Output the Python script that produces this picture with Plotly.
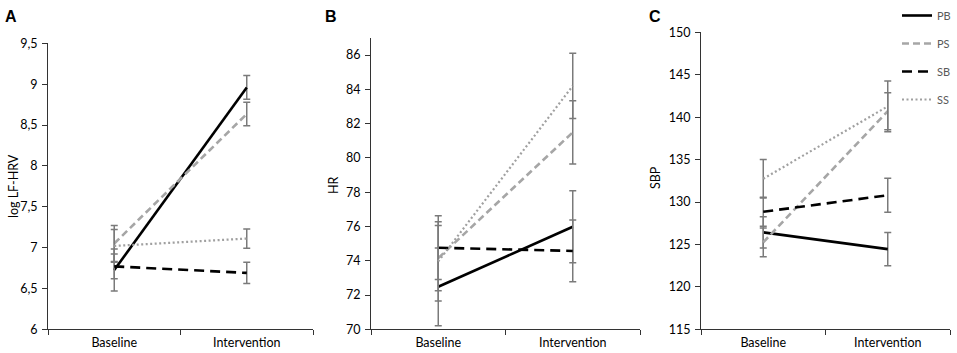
import plotly.graph_objects as go

# ---------------- data ----------------
phases = ["Baseline", "Intervention"]
groups = ["PB", "PS", "SB", "SS"]

# Panel A: log LF-HRV
lf_PB = [6.725, 8.96]
lf_PS = [7.05, 8.635]
lf_SB = [6.77, 6.69]
lf_SS = [7.02, 7.11]
lf_PB_err = [0.257, 0.145]
lf_PS_err = [0.22, 0.145]
lf_SB_err = [0.15, 0.13]
lf_SS_err = [0.20, 0.118]

# Panel B: HR
hr_PB = [72.48, 75.98]
hr_PS = [74.15, 81.49]
hr_SB = [74.76, 74.57]
hr_SS = [73.96, 84.2]
hr_PB_err = [2.27, 2.1]
hr_PS_err = [1.9, 1.85]
hr_SB_err = [1.86, 1.8]
hr_SS_err = [2.31, 1.9]

# Panel C: SBP
sbp_PB = [126.42, 124.45]
sbp_PS = [125.25, 140.7]
sbp_SB = [128.85, 130.8]
sbp_SS = [132.74, 141.27]
sbp_PB_err = [1.85, 1.97]
sbp_PS_err = [1.7, 2.17]
sbp_SB_err = [1.7, 2.0]
sbp_SS_err = [2.26, 3.0]

lf_ticks = [6, 6.5, 7, 7.5, 8, 8.5, 9, 9.5]
lf_ticktext = ["6", "6,5", "7", "7,5", "8", "8,5", "9", "9,5"]
hr_ticks = [70, 72, 74, 76, 78, 80, 82, 84, 86]
sbp_ticks = [115, 120, 125, 130, 135, 140, 145, 150]

y_titles = ["log LF-HRV", "HR", "SBP"]
panel_letters = ["A", "B", "C"]

# ---------------- styles ----------------
styles = {
    "PB": dict(color="#000000", width=2.6, dash="solid"),
    "PS": dict(color="#a6a6a6", width=2.6, dash="7px,4px"),
    "SB": dict(color="#000000", width=2.6, dash="10px,6px"),
    "SS": dict(color="#a0a0a0", width=2.2, dash="2px,2.5px"),
}
ERR_COLOR = "#7a7a7a"
FONT = "Lato, 'Open Sans', sans-serif"

W, H = 957, 353
fig = go.Figure()

panels = [
    ("x", "y", {"PB": (lf_PB, lf_PB_err), "PS": (lf_PS, lf_PS_err),
                "SB": (lf_SB, lf_SB_err), "SS": (lf_SS, lf_SS_err)}),
    ("x2", "y2", {"PB": (hr_PB, hr_PB_err), "PS": (hr_PS, hr_PS_err),
                  "SB": (hr_SB, hr_SB_err), "SS": (hr_SS, hr_SS_err)}),
    ("x3", "y3", {"PB": (sbp_PB, sbp_PB_err), "PS": (sbp_PS, sbp_PS_err),
                  "SB": (sbp_SB, sbp_SB_err), "SS": (sbp_SS, sbp_SS_err)}),
]

for pi, (xa, ya, data) in enumerate(panels):
    for g in groups:
        vals, errs = data[g]
        fig.add_trace(go.Scatter(
            x=phases, y=vals, xaxis=xa, yaxis=ya, mode="lines",
            name=g, legendgroup=g, showlegend=(pi == 2),
            line=styles[g],
            error_y=dict(type="data", array=errs, visible=True,
                         color=ERR_COLOR, thickness=1.5, width=3.5),
        ))

ybot = (H - 329.3) / H
x_domains = [(48 / W, 313 / W), (371 / W, 640 / W), (701 / W, 950 / W)]
y_domains = [(ybot, (H - 43.3) / H), (ybot, (H - 37.9) / H), (ybot, (H - 32.3) / H)]

axis_line = "#333333"
common_x = dict(type="category", range=[-0.5, 1.5], tickson="boundaries",
                ticks="outside", ticklen=5, tickcolor=axis_line,
                showline=True, linecolor=axis_line, linewidth=1,
                showgrid=False, zeroline=False, automargin=False,
                ticklabelstandoff=2,
                tickfont=dict(family=FONT, size=12.5, color="#000000"))
common_y = dict(ticks="outside", ticklen=5, tickcolor=axis_line,
                showline=True, linecolor=axis_line, linewidth=1,
                showgrid=False, zeroline=False, automargin=False,
                ticklabelstandoff=2,
                tickfont=dict(family=FONT, size=12.5, color="#000000"))

layout = dict(
    width=W, height=H,
    margin=dict(l=0, r=0, t=0, b=0, autoexpand=False),
    plot_bgcolor="white", paper_bgcolor="white",
    template="none",
    showlegend=True,
    legend=dict(x=897 / W, y=1 - 1 / H, xanchor="left", yanchor="top",
                bgcolor="rgba(0,0,0,0)", tracegroupgap=9,
                font=dict(family=FONT, size=11, color="#595959")),
)
for i, (xa, ya) in enumerate([("xaxis", "yaxis"), ("xaxis2", "yaxis2"), ("xaxis3", "yaxis3")]):
    xd = dict(common_x, domain=list(x_domains[i]), anchor=["y", "y2", "y3"][i])
    yd = dict(common_y, domain=list(y_domains[i]), anchor=["x", "x2", "x3"][i])
    layout[xa] = xd
    layout[ya] = yd

layout["yaxis"].update(range=[6, 9.5], tickvals=lf_ticks, ticktext=lf_ticktext)
layout["yaxis2"].update(range=[70, 87], tickvals=hr_ticks)
layout["yaxis3"].update(range=[115, 150], tickvals=sbp_ticks)

fig.update_layout(**layout)

# y-axis titles (rotated text)
for title, px, py in zip(y_titles, [13, 333, 655], [186, 185, 178]):
    fig.add_annotation(text=title, x=px / W, y=1 - py / H, xref="paper", yref="paper",
                       xanchor="center", yanchor="middle", textangle=-90,
                       showarrow=False,
                       font=dict(family=FONT, size=12.5, color="#000000"))

# panel letters
for letter, px in zip(panel_letters, [3, 323, 647]):
    fig.add_annotation(text="<b>%s</b>" % letter, x=px / W, y=1 - 6 / H,
                       xref="paper", yref="paper", xanchor="left", yanchor="top",
                       showarrow=False,
                       font=dict(family="Liberation Sans, Arial, sans-serif",
                                 size=16, color="#000000"))

fig.write_html("out.html", config={"displayModeBar": False},
               post_script="document.body.style.margin='0';document.body.style.overflow='hidden';")
